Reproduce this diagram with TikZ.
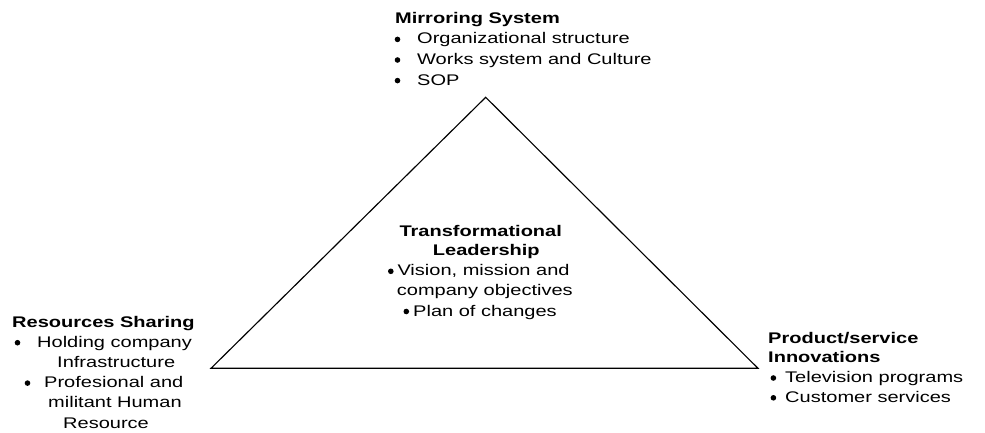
\documentclass[tikz,border=0pt]{standalone}
\usepackage{fontspec}
\setmainfont{Liberation Sans}[FakeStretch=1.3]
\tikzset{
  txt/.style={anchor=base west, inner sep=0pt, font=\fontsize{15.4}{20}\selectfont},
  hd/.style={txt, font=\fontsize{15.4}{20}\selectfont\bfseries},
  bul/.style={circle, fill=black, draw=none, inner sep=0pt, minimum size=5.6pt},
  tri/.style={draw=black, line width=1.15pt, line join=miter}
}
\begin{document}
\begin{tikzpicture}[x=1pt, y=-1pt]
\useasboundingbox (0,0) rectangle (985,433);
% triangle
\coordinate (apex) at (485.7,97.3);
\coordinate (lft) at (211,368.3);
\coordinate (rgt) at (758,368.3);
\draw[tri] (apex) -- (lft) -- (rgt) -- cycle;

% top block
\node[hd]  (m0) at (395,23.3) {Mirroring System};
\node[bul] (mb1) at (397.5,39.4) {};
\node[txt] (m1) at (417,43.9) {Organizational structure};
\node[bul] (mb2) at (397.5,60.0) {};
\node[txt] (m2) at (417,64.5) {Works system and Culture};
\node[bul] (mb3) at (397.5,80.6) {};
\node[txt] (m3) at (417,85.1) {SOP};

% left block
\node[hd]  (r0) at (12,327) {Resources Sharing};
\node[bul] (rb1) at (17.5,342.7) {};
\node[txt] (r1) at (37,347.2) {Holding company};
\node[txt] (r2) at (57,367.4) {Infrastructure};
\node[bul] (rb2) at (27.5,383.1) {};
\node[txt] (r3) at (44,387.6) {Profesional and};
\node[txt] (r4) at (48,407.8) {militant Human};
\node[txt] (r5) at (63,428) {Resource};

% right block
\node[hd]  (p0) at (768,343.5) {Product/service};
\node[hd]  (p1) at (768,362.5) {Innovations};
\node[bul] (pb1) at (773.4,378.0) {};
\node[txt] (p2) at (785,382.5) {Television programs};
\node[bul] (pb2) at (773.4,397.8) {};
\node[txt] (p3) at (785,402.3) {Customer services};

% centre block
\node[hd]  (t0) at (399.3,236) {Transformational};
\node[hd]  (t1) at (432.7,255.9) {Leadership};
\node[bul] (tb1) at (390.8,271.3) {};
\node[txt] (t2) at (397.3,275.8) {Vision, mission and};
\node[txt] (t3) at (396.7,295.9) {company objectives};
\node[bul] (tb2) at (406.3,311.5) {};
\node[txt] (t4) at (413,316) {Plan of changes};
\end{tikzpicture}
\end{document}
